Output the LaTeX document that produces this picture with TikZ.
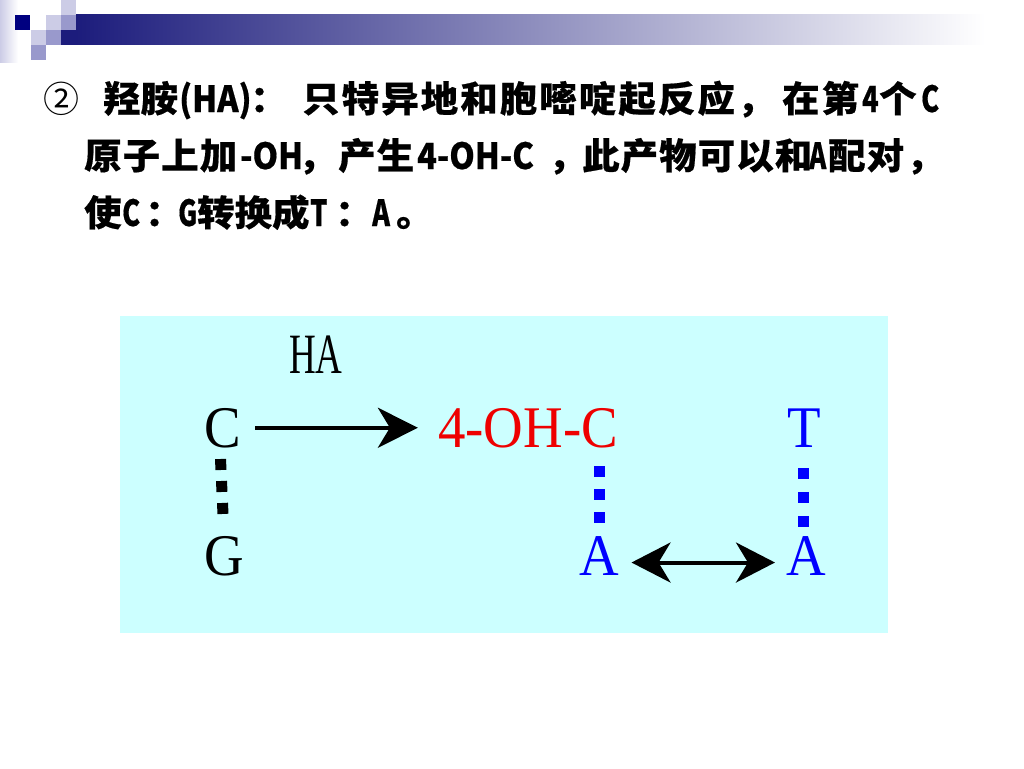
\documentclass[tikz,border=0pt]{standalone}
\usepackage{fontspec}
\usepackage{graphicx}
\setmainfont{Liberation Serif}
\newfontfamily\cjkc{Noto Sans CJK SC}
\newfontfamily\cjkl{Noto Sans CJK SC}[FakeBold=0.5]
\newfontfamily\cjk{Noto Sans CJK SC}[FakeStretch=1.04, FakeBold=0.5]
\newfontfamily\cjkmid{Noto Sans CJK SC}[FakeStretch=1.04, LetterSpace=3, FakeBold=0.5]
\newfontfamily\cjksp{Noto Sans CJK SC}[FakeStretch=1.04, LetterSpace=5.8, FakeBold=0.5]
\usetikzlibrary{arrows.meta}
\newcommand\latn[2][0.9]{{\cjkl\bfseries\fontsize{36}{40}\selectfont\scalebox{#1}[1]{#2}}}
\newcommand\sg[2]{\makebox[#1pt][l]{#2}}
\definecolor{navyq}{RGB}{0,0,128}
\definecolor{barnavy}{RGB}{28,28,124}
\definecolor{paleq}{RGB}{204,204,230}
\definecolor{midq}{RGB}{153,153,204}
\definecolor{bgcyan}{RGB}{204,255,255}
\definecolor{ohred}{RGB}{238,0,0}
\definecolor{dnablue}{RGB}{0,0,255}
\tikzset{
  txt/.style={anchor=base west, inner sep=0pt, font=\cjk\bfseries\fontsize{36}{40}\selectfont},
  dna/.style={anchor=base, inner sep=0pt, font=\fontsize{59}{64}\selectfont},
  bond/.style={line width=11pt, dash pattern=on 11pt off 11pt},
  arr/.style={line width=4pt, -{Stealth[length=40pt,width=40pt,inset=12pt]}},
  darr/.style={line width=4pt, {Stealth[length=39pt,width=40pt,inset=12pt]}-{Stealth[length=39pt,width=40pt,inset=12pt]}}
}
\begin{document}
\begin{tikzpicture}[x=1pt,y=-1pt]
\useasboundingbox (0,0) rectangle (1024,768);
\fill[white] (0,0) rectangle (1024,768);
% top decoration
\shade[left color=paleq, right color=white] (0,0) rectangle (18,62);
\fill[navyq] (15,15) rectangle (30,30);
\fill[paleq] (46,15) rectangle (61,30);
\fill[paleq] (61,0) rectangle (76,15);
\fill[midq] (61,15) rectangle (76,30);
\fill[paleq] (31,30) rectangle (46,45);
\fill[midq] (46,30) rectangle (61,45);
\fill[barnavy] (61,30) rectangle (77,45);
\fill[midq] (31,45) rectangle (46,60);
\shade[left color=barnavy, middle color={rgb,255:red,170;green,170;blue,195}, right color=white] (76,15) rectangle (985,45);
% title text
\node[txt] (line1) at (43,112) {\sg{60}{{\cjkc\mdseries ②}}\sg{76}{羟胺}\sg{71}{\latn{(HA)}}\sg{52}{：}\sg{480}{{\cjksp 只特异地和胞嘧啶起反应，}}\sg{80}{{\cjksp 在第}}\sg{17}{\latn[0.75]{4}}\sg{42}{个}\latn[0.75]{C}};
\node[txt] (line2) at (84,169) {\sg{156}{{\cjkmid 原子上加}}\sg{58}{\latn{-OH}}\sg{40}{，}\sg{79}{{\cjkmid 产生}}\sg{131}{\latn{4-OH-C}}\sg{34}{，}\sg{227}{{\cjkmid 此产物可以和}}\sg{19}{\latn[0.72]{A}}\sg{78}{{\cjkmid 配对}}，};
\node[txt] (line3) at (84,226) {\sg{38}{使}\sg{23}{\latn[0.75]{C}}\sg{33}{：}\sg{19}{\latn[0.72]{G}}\sg{113}{转换成}\sg{25}{\latn[0.75]{T}}\sg{37}{：}\sg{24}{\latn[0.75]{A}}。};
% diagram
\fill[bgcyan] (120,316) rectangle (888,633);
\node[dna, font=\fontsize{57}{60}\selectfont] (HA) at (316,373) {\scalebox{0.65}[1]{HA}};
\node[dna] (C) at (222.5,447) {\scalebox{0.93}[1]{C}};
\node[dna, text=ohred] (OHC) at (528,447) {\scalebox{0.93}[1]{4-OH-C}};
\node[dna, text=dnablue] (T) at (804,447) {\scalebox{0.93}[1]{T}};
\node[dna] (G) at (224.5,575) {\scalebox{0.93}[1]{G}};
\node[dna, text=dnablue] (A1) at (599.5,575) {\scalebox{0.93}[1]{A}};
\node[dna, text=dnablue] (A2) at (806,575) {\scalebox{0.93}[1]{A}};
\draw[arr] ([xshift=14pt]C.east) -- ([xshift=-20pt]OHC.west);
\draw[darr] ([shift={(12pt,-7pt)}]A1.east) -- ([shift={(-11pt,-7pt)}]A2.west);
\draw[bond, black] ([xshift=-2pt,yshift=-12pt]C.base) -- ([xshift=-1.5pt,yshift=61pt]G.base);
\draw[bond, dnablue, dash pattern=on 11pt off 12pt] ([xshift=71pt,yshift=-19pt]OHC.base) -- ([xshift=-0.5pt,yshift=52pt]A1.base);
\draw[bond, dnablue, dash pattern=on 11pt off 13pt] ([xshift=-0.5pt,yshift=-21pt]T.base) -- ([xshift=-2.5pt,yshift=48pt]A2.base);
\end{tikzpicture}
\end{document}
